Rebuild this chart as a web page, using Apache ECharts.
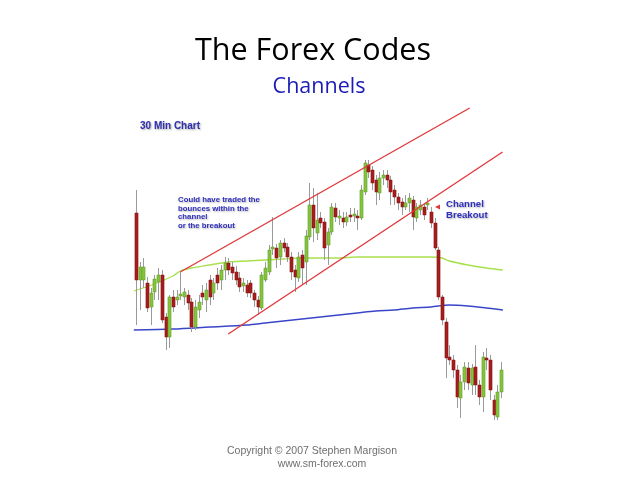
<!DOCTYPE html>
<html>
<head>
<meta charset="utf-8">
<script src="https://cdn.jsdelivr.net/npm/echarts@6/dist/echarts.min.js"></script>
<style>
html,body{margin:0;padding:0;background:#fff;}
#chart{width:638px;height:479px;}
</style>
</head>
<body>
<div id="chart"></div>
<script>
// ---- data (price units) ----
const categories = Array.from({length: 100}, (_, i) => 'C' + (i + 1));
const opens  = [287,220,220,217,193,208,218,225,183,163,203,200,204,203,205,198,173,190,207,200,
                220,207,225,220,230,237,233,228,222,214,215,217,207,200,192,220,228,251,252,243,
                257,253,243,230,222,245,238,263,295,267,282,278,255,268,292,282,282,278,285,284,
                284,282,308,335,330,320,307,322,325,320,310,303,298,293,297,300,282,290,293,295,
                288,277,250,203,178,143,140,130,102,118,132,115,133,115,103,142,140,100,83,108];
const closes = [220,233,233,192,207,221,225,180,163,203,193,203,206,208,197,173,193,198,203,210,
                203,217,217,230,237,230,227,220,213,217,207,207,200,193,225,232,250,253,242,257,
                252,243,228,223,243,232,264,295,272,280,277,252,268,293,283,284,278,283,283,286,
                282,310,337,328,317,308,322,325,320,308,303,297,293,297,302,283,293,295,285,297,
                277,252,203,180,142,140,130,103,118,133,117,132,115,103,143,140,110,85,108,130];
const lows   = [175,190,212,188,175,200,200,177,150,152,188,195,200,195,190,168,170,182,195,188,
                195,200,210,210,220,225,220,215,208,208,203,202,193,185,190,218,225,245,232,235,
                248,238,220,208,218,215,215,260,258,260,272,240,235,265,278,275,272,274,278,278,
                270,280,305,322,310,295,300,315,312,295,295,290,285,290,288,270,278,285,280,290,
                272,250,200,175,122,135,122,92,82,110,110,105,105,95,88,130,100,80,80,102];
const highs  = [310,238,242,223,212,225,232,230,187,205,210,210,228,212,210,202,200,205,215,217,
                225,222,232,235,243,242,238,234,228,222,220,220,210,204,228,238,255,283,256,260,
                262,257,248,235,248,250,270,317,312,307,288,282,272,297,297,290,288,288,292,292,
                290,315,340,340,334,325,328,330,330,324,315,307,302,305,307,304,297,300,297,302,
                293,282,253,205,182,155,145,135,125,138,138,136,155,120,148,152,145,105,115,138];
// moving averages, read at these bar positions
const maFastIdx  = [-0.6,5,10,12,15,20,25,30,35,40,45,50,55,60,65,70,75,80,83,85,90,95,99.5];
const maFastVal  = [209,216,224,229,232,235,238,239,240,241,242,242,242,243,243,243,243,243,242,239,235,232,230];
const maSlowIdx  = [-0.6,10,20,30,35,40,45,50,55,60,65,70,75,80,85,90,95,99.5];
const maSlowVal  = [170,171,173,175,177,179,181,183,185,187,189,190,192,193,195,194,192,190];
// channel lines: [bar index, price]
const channelUpper = [[12, 228], [90.5, 392]];
const channelLower = [[25, 166], [99.4, 348]];

const pairs = (idx, val) => idx.map((k, j) => [k, val[j]]);
const candleData = categories.map((c, i) => [i, opens[i], closes[i], lows[i], highs[i]]);

const UP = '#82c43c', DOWN = '#a51d1d', WICK = '#9a9a9a';

const chart = echarts.init(document.getElementById('chart'));
chart.setOption({
  backgroundColor: '#ffffff',
  animation: false,
  title: [
    { text: 'The Forex Codes', left: 308, textAlign: 'center', top: 31,
      textStyle: { fontFamily: 'Open Sans', fontWeight: 'normal', fontSize: 30.5, color: '#000' } },
    { text: 'Channels', left: 314, textAlign: 'center', top: 71,
      textStyle: { fontFamily: 'Open Sans', fontWeight: 'normal', fontSize: 21.5, color: '#1a1ab8' } }
  ],
  grid: { left: 134.2, width: 368.7, top: 100, bottom: 49, containLabel: false },
  xAxis: [
    { type: 'category', data: categories, show: false, boundaryGap: true },
    { type: 'value', min: -0.5, max: 99.5, show: false }
  ],
  yAxis: { type: 'value', min: 70, max: 400, show: false, splitLine: { show: false } },
  series: [
    {
      name: 'MA slow', type: 'line', xAxisIndex: 1, data: pairs(maSlowIdx, maSlowVal),
      smooth: 0.3, symbol: 'none', clip: false,
      lineStyle: { color: '#3a46c8', width: 1.5 }, z: 1
    },
    {
      name: 'MA fast', type: 'line', xAxisIndex: 1, data: pairs(maFastIdx, maFastVal),
      smooth: 0.3, symbol: 'none', clip: false,
      lineStyle: { color: '#a8e04e', width: 1.3 }, z: 1
    },
    {
      name: 'Price', type: 'custom', xAxisIndex: 0, data: candleData, z: 3,
      encode: { x: 0, y: [1, 2, 3, 4] },
      renderItem: function (params, api) {
        const x = api.value(0);
        const o = api.value(1), c = api.value(2), l = api.value(3), h = api.value(4);
        const pH = api.coord([x, h]), pL = api.coord([x, l]);
        const pO = api.coord([x, o]), pC = api.coord([x, c]);
        const w = api.size([1, 0])[0] * 0.85;
        const top = Math.min(pO[1], pC[1]);
        const ht = Math.max(1.2, Math.abs(pO[1] - pC[1]));
        const cx = Math.round(pH[0]) + 0.5;
        return {
          type: 'group',
          children: [
            { type: 'line', shape: { x1: cx, y1: pH[1], x2: cx, y2: pL[1] },
              style: { stroke: WICK, lineWidth: 1 } },
            { type: 'rect', shape: { x: cx - w / 2, y: top, width: w, height: ht },
              style: { fill: c >= o ? UP : DOWN, stroke: c >= o ? '#5e9a28' : '#861414', lineWidth: 0.5 } }
          ]
        };
      }
    },
    {
      name: 'Channel upper', type: 'line', xAxisIndex: 1, data: channelUpper,
      symbol: 'none', lineStyle: { color: '#e0393b', width: 1.4 }, z: 4
    },
    {
      name: 'Channel lower', type: 'line', xAxisIndex: 1, data: channelLower,
      symbol: 'none', lineStyle: { color: '#e0393b', width: 1.4 }, z: 4
    }
  ],
  graphic: [
    { type: 'text', x: 140, y: 121, z: 10,
      style: { text: '30 Min Chart', font: 'bold 10px "Liberation Sans", Arial', fill: '#2f2fb0',
               textShadowColor: 'rgba(0,0,0,0.35)', textShadowBlur: 2, textShadowOffsetX: 1, textShadowOffsetY: 1 } },
    { type: 'text', x: 178, y: 196, z: 10,
      style: { text: 'Could have traded the\nbounces within the\nchannel\nor the breakout',
               font: 'bold 7.8px "Liberation Sans", Arial', lineHeight: 8.4, fill: '#2f2fc0',
               textShadowColor: 'rgba(0,0,0,0.3)', textShadowBlur: 2, textShadowOffsetX: 1, textShadowOffsetY: 1 } },
    { type: 'text', x: 446, y: 199, z: 10,
      style: { text: 'Channel\nBreakout', font: 'bold 9.6px "Liberation Sans", Arial', lineHeight: 11, fill: '#2f2fc0',
               textShadowColor: 'rgba(0,0,0,0.3)', textShadowBlur: 2, textShadowOffsetX: 1, textShadowOffsetY: 1 } },
    { type: 'polygon', z: 10, shape: { points: [[435, 207], [440, 204.5], [440, 209.5]] },
      style: { fill: '#e03838' } },
    { type: 'text', x: 312, y: 451, z: 10,
      style: { text: 'Copyright \u00a9 2007 Stephen Margison', font: '10.5px "Liberation Sans", Arial',
               fill: '#6e6e6e', align: 'center', verticalAlign: 'middle' } },
    { type: 'text', x: 322, y: 464, z: 10,
      style: { text: 'www.sm-forex.com', font: '10.5px "Liberation Sans", Arial',
               fill: '#6e6e6e', align: 'center', verticalAlign: 'middle' } }
  ]
});
</script>
</body>
</html>
